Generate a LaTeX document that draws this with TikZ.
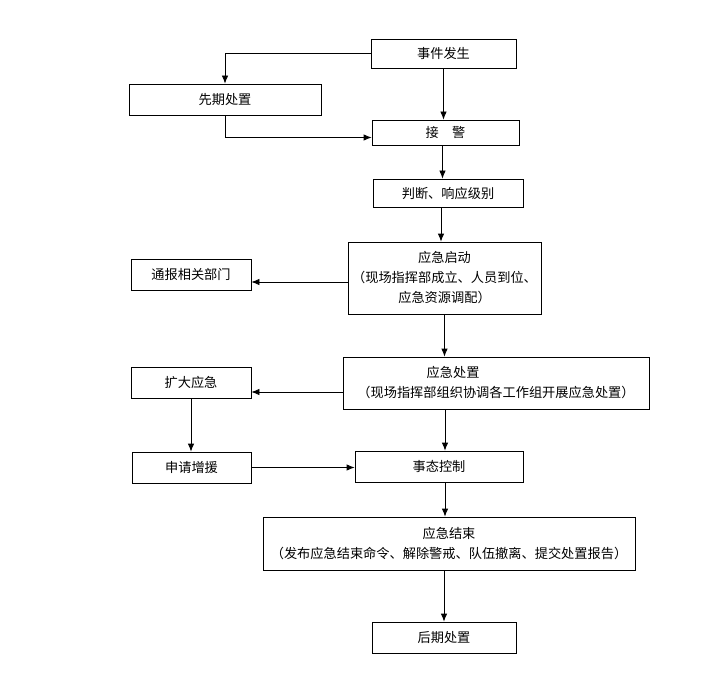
\documentclass[tikz,border=0pt]{standalone}
\usepackage{fontspec}
\newfontfamily\cjk{Noto Sans CJK SC}
\usetikzlibrary{arrows.meta}

\tikzset{
  box/.style={draw, line width=0.8pt, inner sep=0pt, align=center,
    font=\cjk\fontsize{13.2}{20}\selectfont},
  arr/.style={-{Latex[length=8pt,width=6.5pt]}, line width=0.8pt},
}

\begin{document}
\begin{tikzpicture}[x=1pt, y=-1pt]
    \useasboundingbox (0,0) rectangle (728,679);

    \node[box, minimum width=145, minimum height=29] (start) at (443.5, 53.5) {事件发生};
    \node[box, minimum width=192, minimum height=31] (early) at (225, 99.5) {先期处置};
    \node[box, minimum width=147, minimum height=25] (alarm) at (445.5, 132.5) {接\quad 警};
    \node[box, minimum width=150, minimum height=28] (judge) at (448, 193) {判断、响应级别};
    \node[box, minimum width=193, minimum height=72] (launch) at (444.5, 278) {应急启动\\（现场指挥部成立、人员到位、\\应急资源调配）};
    \node[box, minimum width=120, minimum height=31] (notify) at (191, 274.5) {通报相关部门};
    \node[box, minimum width=306, minimum height=52] (handle) at (496, 383) {应急处置\hspace*{6.5em}\\（现场指挥部组织协调各工作组开展应急处置）};
    \node[box, minimum width=120, minimum height=31] (expand) at (191, 382.5) {扩大应急};
    \node[box, minimum width=119, minimum height=31] (reinforce) at (191.5, 467.5) {申请增援};
    \node[box, minimum width=168, minimum height=31] (control) at (439, 466.5) {事态控制};
    \node[box, minimum width=372, minimum height=53] (finish) at (449, 543.5) {应急结束\\（发布应急结束命令、解除警戒、队伍撤离、提交处置报告）};
    \node[box, minimum width=144, minimum height=31] (post) at (444, 637.5) {后期处置};

    % 连线
    \coordinate (bend) at (start.west -| early.north);
    \draw[line width=1.8pt] (start.west) -- (bend);
    \draw[arr] (bend) -- (early.north);
    \draw[arr] (start.south) -- (start.south |- alarm.north);
    \draw[arr] (early.south) |- ([yshift=-5pt]alarm.west);
    \draw[arr] ([xshift=-3pt]alarm.south) -- ([xshift=-3pt]alarm.south |- judge.north);
    \draw[arr] ([xshift=-7pt]judge.south) -- ([xshift=-7pt]judge.south |- launch.north);
    \draw[arr] ([yshift=-4pt]launch.west) -- ([yshift=-4pt]launch.west -| notify.east);
    \draw[arr] (launch.south) -- (launch.south |- handle.north);
    \draw[arr] ([yshift=-9pt]handle.west) -- ([yshift=-9pt]handle.west -| expand.east);
    \draw[arr] (expand.south) -- (expand.south |- reinforce.north);
    \draw[arr] (reinforce.east) -- (reinforce.east -| control.west);
    \draw[arr] ([xshift=6pt]control.north |- handle.south) -- ([xshift=6pt]control.north);
    \draw[arr] ([xshift=6pt]control.south) -- ([xshift=6pt]control.south |- finish.north);
    \draw[arr] (post.north |- finish.south) -- (post.north);
\end{tikzpicture}
\end{document}
